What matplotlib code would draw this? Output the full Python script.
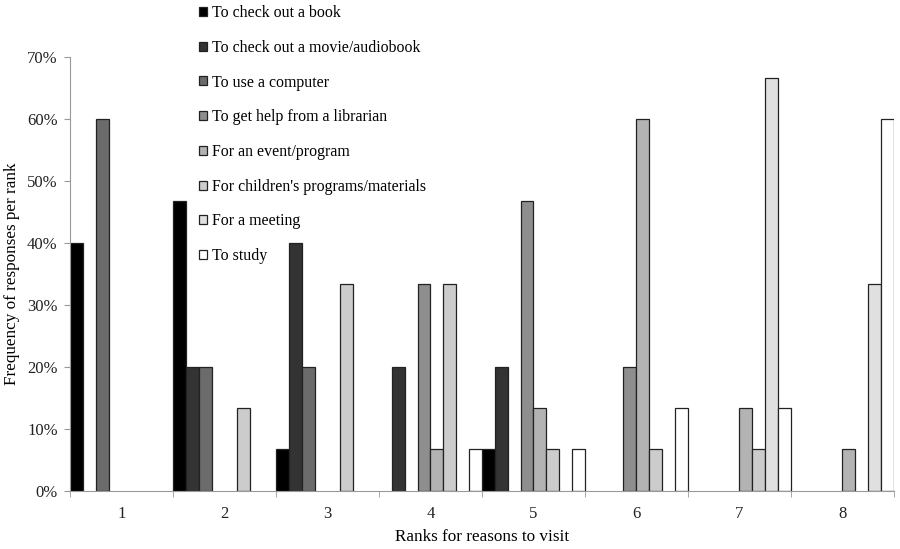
import numpy as np
import matplotlib
matplotlib.use("Agg")
import matplotlib.pyplot as plt
from matplotlib.ticker import PercentFormatter, FixedLocator

plt.rcParams['font.family'] = ['Liberation Serif', 'DejaVu Serif']

# ranks on the x axis
ranks = ["1", "2", "3", "4", "5", "6", "7", "8"]

# reasons to visit (series)
reasons = [
    "To check out a book",
    "To check out a movie/audiobook",
    "To use a computer",
    "To get help from a librarian",
    "For an event/program",
    "For children's programs/materials",
    "For a meeting",
    "To study",
]

# frequency of responses per rank (%)
book = [40, 46.7, 6.7, 0, 6.7, 0, 0, 0]
movie = [0, 20, 40, 20, 20, 0, 0, 0]
computer = [60, 20, 20, 0, 0, 0, 0, 0]
librarian = [0, 0, 0, 33.3, 46.7, 20, 0, 0]
event = [0, 0, 0, 6.7, 13.3, 60, 13.3, 6.7]
children = [0, 13.3, 33.3, 33.3, 6.7, 6.7, 6.7, 0]
meeting = [0, 0, 0, 0, 0, 0, 66.7, 33.3]
study = [0, 0, 0, 6.7, 6.7, 13.3, 13.3, 60]

series = [book, movie, computer, librarian, event, children, meeting, study]
colors = ["#000000", "#333333", "#6b6b6b", "#8e8e8e", "#b3b3b3", "#cccccc", "#e0e0e0", "#ffffff"]

fig = plt.figure(figsize=(9, 5.49), dpi=100)
ax = fig.add_axes([0.078, 0.106, 0.915, 0.790])

n = len(series)
width = 1.0 / n
x = np.arange(len(ranks))
handles = []
for j, (vals, col, lab) in enumerate(zip(series, colors, reasons)):
    vals = np.array(vals)
    pos = x - 0.5 + width * (j + 0.5)
    mask = vals > 0
    ax.bar(pos[mask], vals[mask], width=width, color=col, edgecolor="#222222", linewidth=0.9)
    h = plt.Rectangle((0, 0), 1, 1, facecolor=col, edgecolor="#222222", linewidth=0.9)
    handles.append(h)

ax.set_xlim(-0.5, len(ranks) - 0.5)
ax.set_ylim(0, 70)
ax.set_yticks(np.arange(0, 71, 10))
ax.yaxis.set_major_formatter(PercentFormatter(decimals=0))
ax.set_xticks(x)
ax.set_xticklabels(ranks)
ax.xaxis.set_minor_locator(FixedLocator(np.arange(-0.5, len(ranks), 1)))
ax.tick_params(axis="x", which="major", length=0, pad=11)
ax.tick_params(axis="x", which="minor", length=4, color="#999999", direction="out")
ax.tick_params(axis="y", length=4, color="#999999", pad=5)
ax.tick_params(labelsize=12, labelcolor="#222222")

for s in ["top", "right"]:
    ax.spines[s].set_visible(False)
for s in ["left", "bottom"]:
    ax.spines[s].set_color("#999999")

ax.set_xlabel("Ranks for reasons to visit", fontsize=12.3, labelpad=5)
ax.set_ylabel("Frequency of responses per rank", fontsize=12.3, labelpad=5)

fig.legend(handles, reasons, loc="upper left", bbox_to_anchor=(0.214, 1.002),
           frameon=False, fontsize=11.4, handlelength=0.5, handleheight=0.5,
           handletextpad=0.3, labelspacing=1.18, borderaxespad=0)

fig.savefig("out.png", dpi=100)
